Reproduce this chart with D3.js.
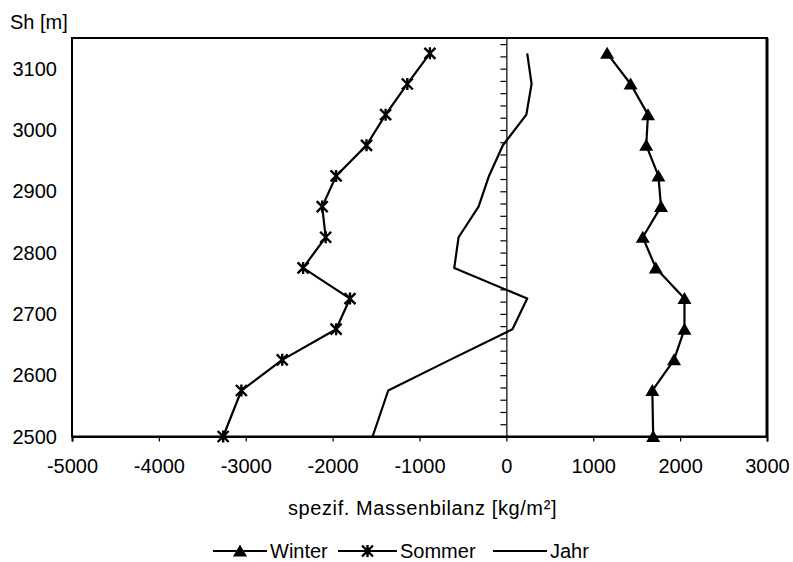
<!DOCTYPE html>
<html lang="de">
<head>
<meta charset="UTF-8">
<script src="https://d3js.org/d3.v7.min.js"></script>
<style>
  body { margin: 0; background: #fff; }
  svg text { font-family: "Liberation Sans", Arial, sans-serif; fill: #000; }
</style>
</head>
<body>
<div id="chart"></div>
<script>
// Höhenstufen (Sh) und spezifische Massenbilanz je Stufe [kg/m²]
var heights = [2500, 2575, 2625, 2675, 2725, 2775, 2825, 2875, 2925, 2975, 3025, 3075, 3125];
var winter  = [1690, 1680, 1930, 2050, 2050, 1720, 1570, 1780, 1750, 1610, 1630, 1430, 1160];
var sommer  = [-3260, -3050, -2580, -1960, -1800, -2340, -2080, -2120, -1960, -1610, -1390, -1140, -880];
var jahr    = [-1540, -1360, -650, 70, 240, -600, -550, -320, -200, -40, 230, 290, 240];

var xTicks = [-5000, -4000, -3000, -2000, -1000, 0, 1000, 2000, 3000];
var yTicks = [2500, 2600, 2700, 2800, 2900, 3000, 3100];

var width = 793, height = 562;
var plotLeft = 72, plotRight = 767, plotTop = 38, plotBottom = 436.5;

var svg = d3.select("#chart").append("svg")
    .attr("width", width)
    .attr("height", height);

var x = d3.scaleLinear().domain([-5000, 3000]).range([plotLeft, plotRight]);
var y = d3.scaleLinear().domain([2500, 3150]).range([plotBottom, plotTop]);

// Rahmen
svg.append("rect")
    .attr("x", plotLeft).attr("y", plotTop)
    .attr("width", plotRight - plotLeft).attr("height", plotBottom - plotTop)
    .attr("fill", "none").attr("stroke", "#000").attr("stroke-width", 2);
svg.append("line")
    .attr("x1", plotRight).attr("x2", plotRight).attr("y1", plotTop).attr("y2", plotBottom)
    .attr("stroke", "#000").attr("stroke-width", 3);

// x-Achse unten
var xAxis = d3.axisBottom(x).tickValues(xTicks).tickSize(5)
    .tickFormat(function (d) { return String(d); });
var gx = svg.append("g").attr("transform", "translate(0," + plotBottom + ")").call(xAxis);
gx.select(".domain").attr("stroke-width", 2);
gx.selectAll(".tick line").attr("stroke-width", 1.2);
gx.selectAll(".tick text")
    .attr("y", 36).attr("dy", 0)
    .style("font-size", "20px")
    .style("font-family", "'Liberation Sans', Arial, sans-serif");

// y-Beschriftung links (ohne Striche am Rahmen)
svg.append("g").selectAll("text")
    .data(yTicks)
    .enter().append("text")
    .attr("x", 57)
    .attr("y", function (d) { return y(d); })
    .attr("dy", "0.36em")
    .attr("text-anchor", "end")
    .style("font-size", "20px")
    .text(function (d) { return d; });

// senkrechte Achse bei 0 mit Strichen alle 20 m
var zeroAxis = d3.axisLeft(y).tickValues(d3.range(2500, 3150, 20)).tickSize(6).tickFormat("");
var g0 = svg.append("g").attr("transform", "translate(" + x(0) + ",0)").call(zeroAxis);
g0.select(".domain").attr("stroke-width", 1.2);
g0.selectAll(".tick line").attr("stroke-width", 1.2);

// Reihen
function seriesData(vals) {
    return heights.map(function (h, i) { return { h: h, v: vals[i] }; });
}
var line = d3.line()
    .x(function (d) { return x(d.v); })
    .y(function (d) { return y(d.h); });

var triPath = "M0,-6.5L7,5.5L-7,5.5Z";
var starPath = "M-5.5,-5.5L5.5,5.5M5.5,-5.5L-5.5,5.5M0,-6L0,6";

[winter, sommer, jahr].forEach(function (vals) {
    svg.append("path")
        .datum(seriesData(vals))
        .attr("d", line)
        .attr("fill", "none")
        .attr("stroke", "#000")
        .attr("stroke-width", 2.2)
        .attr("stroke-linejoin", "round");
});

svg.append("g").selectAll("path")
    .data(seriesData(winter))
    .enter().append("path")
    .attr("transform", function (d) { return "translate(" + x(d.v) + "," + y(d.h) + ")"; })
    .attr("d", triPath)
    .attr("fill", "#000");

svg.append("g").selectAll("path")
    .data(seriesData(sommer))
    .enter().append("path")
    .attr("transform", function (d) { return "translate(" + x(d.v) + "," + y(d.h) + ")"; })
    .attr("d", starPath)
    .attr("fill", "none")
    .attr("stroke", "#000")
    .attr("stroke-width", 2.4);

// Titel
svg.append("text")
    .attr("x", 10).attr("y", 29)
    .style("font-size", "20px")
    .text("Sh [m]");

svg.append("text")
    .attr("x", (plotLeft + plotRight) / 2 + 3).attr("y", 515)
    .attr("text-anchor", "middle")
    .style("font-size", "20px")
    .style("letter-spacing", "0.6px")
    .text("spezif. Massenbilanz [kg/m²]");

// Legende
var legendItems = [
    { name: "Winter", x1: 213, x2: 267, marker: triPath, fill: "#000" },
    { name: "Sommer", x1: 338, x2: 397, marker: starPath, fill: "none" },
    { name: "Jahr", x1: 493, x2: 547, marker: null }
];
var ly = 551;
var lg = svg.append("g");
legendItems.forEach(function (d) {
    lg.append("line")
        .attr("x1", d.x1).attr("x2", d.x2).attr("y1", ly).attr("y2", ly)
        .attr("stroke", "#000").attr("stroke-width", 2.2);
    if (d.marker) {
        lg.append("path")
            .attr("transform", "translate(" + (d.x1 + d.x2) / 2 + "," + ly + ")")
            .attr("d", d.marker)
            .attr("fill", d.fill)
            .attr("stroke", "#000")
            .attr("stroke-width", d.fill === "none" ? 2.4 : 0);
    }
    lg.append("text")
        .attr("x", d.x2 + 3).attr("y", ly + 7)
        .style("font-size", "20px")
        .text(d.name);
});
</script>
</body>
</html>
